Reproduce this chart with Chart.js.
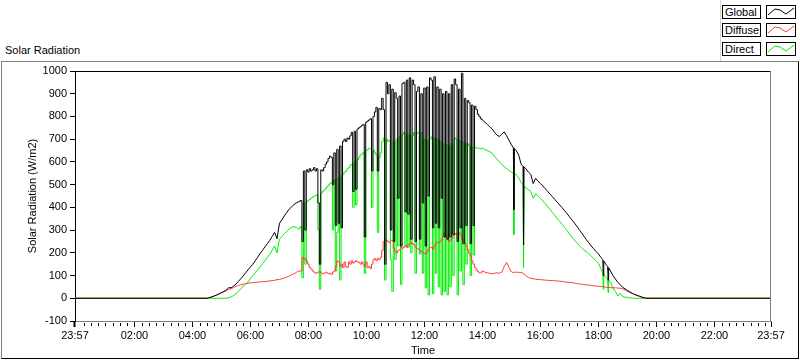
<!DOCTYPE html>
<html>
<head>
<meta charset="utf-8">
<script src="https://cdn.jsdelivr.net/npm/chart.js@4.4.0/dist/chart.umd.min.js"></script>
<style>
  html, body { margin: 0; padding: 0; background: #fff; }
  body { width: 800px; height: 361px; position: relative; overflow: hidden;
         font: 11px "Liberation Sans", Arial, sans-serif; color: #000; }
  #frame { position: absolute; left: 1px; top: 61px; width: 798px; height: 298px; box-sizing: border-box;
           border-left: 1px solid #808080; border-top: 1px solid #808080;
           border-right: 1px solid #000; border-bottom: 1px solid #000; }
  #caption { position: absolute; left: 5px; top: 44px; line-height: 13px; white-space: nowrap; }
  #legendPanel { position: absolute; left: 720px; top: 0; width: 80px; height: 61px;
                 border-left: 1px solid #d4d4d4; box-sizing: border-box; }
  .leg-name { position: absolute; left: 722px; width: 39px; height: 14px; box-sizing: border-box;
              border: 1px solid #000; padding-left: 2px; line-height: 12px; background: #fff; }
  .leg-line { position: absolute; left: 766px; width: 30px; height: 14px; box-sizing: border-box;
              border: 1px solid #000; background: #fff; }
  .leg-line svg { position: absolute; left: 0; top: 0; }
  canvas { position: absolute; left: 0; top: 0; }
</style>
</head>
<body>
<div id="frame"></div>
<div id="caption">Solar Radiation</div>
<div id="legendPanel"></div>
<div id="legend"></div>
<canvas id="chart" width="800" height="361"></canvas>
<script>
// time of day for each sample; the first 23:57 belongs to the previous day
const timeLabels = [
  '23:57',
  '04:30','04:35','04:40','04:45','04:50','04:55',
  '05:00','05:05','05:10','05:15','05:20','05:25','05:30','05:35','05:40','05:45','05:50','05:55',
  '06:00','06:05','06:10','06:15','06:20','06:25','06:30','06:35','06:40','06:45','06:50','06:55',
  '07:00','07:05','07:10','07:15','07:20','07:25','07:30','07:35','07:40',
  '07:45','07:48','07:51','07:54','07:57',
  '08:00','08:03','08:06','08:09','08:12','08:15','08:18','08:21','08:24','08:27','08:30','08:33','08:36','08:39','08:42','08:45','08:48','08:51','08:54','08:57',
  '09:00','09:03','09:06','09:09','09:12','09:15','09:18','09:21','09:24','09:27','09:30','09:33','09:36','09:39','09:42','09:45','09:48','09:51','09:54','09:57',
  '10:00','10:03','10:06','10:09','10:12','10:15','10:18','10:21','10:24','10:27','10:30','10:33','10:36','10:39','10:42','10:45','10:48','10:51','10:54','10:57',
  '11:00','11:03','11:06','11:09','11:12','11:15','11:18','11:21','11:24','11:27','11:30','11:33','11:36','11:39','11:42','11:45','11:48','11:51','11:54','11:57',
  '12:00','12:03','12:06','12:09','12:12','12:15','12:18','12:21','12:24','12:27','12:30','12:33','12:36','12:39','12:42','12:45','12:48','12:51','12:54','12:57',
  '13:00','13:03','13:06','13:09','13:12','13:15','13:18','13:21','13:24','13:27','13:30','13:33','13:36','13:39','13:42','13:45','13:48','13:51','13:54','13:57',
  '14:00','14:05','14:10','14:15','14:20','14:25','14:30','14:35','14:40','14:45','14:50','14:55',
  '15:00','15:04','15:05','15:06','15:10','15:15','15:20','15:24','15:25','15:26','15:30','15:35','15:40','15:45','15:50','15:55',
  '16:00','16:05','16:10','16:15','16:20','16:25','16:30','16:35','16:40','16:45','16:50','16:55',
  '17:00','17:05','17:10','17:15','17:20','17:25','17:30','17:35','17:40','17:45','17:50','17:55',
  '18:00','18:05','18:09','18:10','18:11','18:15','18:19','18:20','18:21','18:25','18:30','18:35','18:40','18:45','18:50','18:55',
  '19:00','19:05','19:10','19:15','19:20','19:25','19:30','19:35','19:40',
  '23:57'
];

const globalValues = [
  0,
  0, 3, 6, 10, 14, 19,
  25, 30, 36, 47, 46, 54, 62, 74, 86, 98, 112, 125,
  138, 150, 165, 181, 197, 211, 226, 240, 255, 272, 290, 262,
  330, 345, 362, 377, 392, 402, 412, 420, 425,
  430, 250, 560, 300, 565,
  555, 570, 560, 565, 575, 560, 570, 420, 150, 565, 560, 575, 590, 600, 615, 625, 620, 500, 640, 320,
  655, 330, 670, 310, 690, 700, 690, 705, 700, 715, 730, 470, 735, 480, 745, 750, 755, 760, 765, 270,
  775, 780, 785, 790, 560, 800, 820, 840, 560, 835, 830, 880, 830, 150, 950, 900, 940, 300, 920, 250,
  905, 880, 440, 890, 230, 945, 950, 380, 960, 370, 970, 260, 960, 940, 250, 910, 930, 260, 900, 420,
  925, 230, 930, 450, 970, 960, 310, 975, 330, 930, 310, 920, 440, 900, 270, 910, 260, 900, 270, 940,
  280, 965, 940, 250, 920, 310, 990, 240, 880, 320, 870, 860, 240, 850, 320, 845, 830, 810, 800, 790,
  785, 775, 765, 755, 745, 730, 718, 712, 722, 732, 715, 695,
  675, 662, 390, 658, 650, 630, 590, 580, 235, 578, 570, 555, 545, 505, 528, 515,
  505, 494, 482, 470, 458, 446, 434, 422, 410, 398, 385, 372,
  359, 345, 332, 318, 303, 288, 273, 258, 244, 230, 218, 206,
  195, 180, 170, 100, 165, 150, 140, 80, 135, 120, 100, 85, 70, 60, 48, 42,
  34, 28, 22, 17, 13, 9, 5, 2, 0,
  0
];

const diffuseValues = [
  0,
  0, 3, 6, 10, 15, 20,
  24, 29, 33, 40, 42, 47, 52, 56, 59, 62, 64, 66,
  68, 69, 70, 71, 72, 73, 74, 75, 76, 78, 79, 82,
  83, 86, 89, 93, 98, 103, 108, 114, 120,
  120, 180, 170, 175, 165,
  150, 135, 130, 120, 115, 110, 112, 115, 118, 112, 108, 110, 115, 112, 108, 110, 105, 115, 120, 140,
  165, 160, 140, 150, 135, 160, 140, 135, 160, 150, 165, 155, 160, 165, 160, 158, 150, 160, 150, 140,
  160, 135, 140, 130, 150, 170, 175, 165, 175, 170, 180, 210, 250, 255, 255, 250, 245, 255, 255, 220,
  205, 200, 210, 215, 225, 220, 225, 230, 224, 235, 240, 245, 240, 235, 225, 220, 215, 210, 205, 200,
  198, 195, 205, 215, 225, 224, 215, 230, 240, 245, 246, 250, 260, 270, 286, 275, 260, 250, 255, 265,
  275, 285, 280, 286, 290, 280, 260, 250, 242, 230, 215, 198, 185, 165, 150, 136, 125, 118, 112, 112,
  120, 115, 112, 110, 108, 110, 112, 110, 115, 140, 158, 135,
  116, 113, 112, 114, 115, 114, 114, 110, 108, 106, 100, 92, 88, 86, 84, 83,
  82, 81, 80, 79, 78, 78, 77, 76, 75, 74, 72, 71,
  70, 69, 67, 65, 63, 62, 60, 59, 58, 57, 55, 54,
  53, 52, 51, 50, 50, 49, 48, 48, 48, 47, 46, 46, 45, 44, 42, 36,
  30, 26, 21, 16, 12, 8, 5, 2, 0,
  0
];

const directValues = [
  0,
  0, 0, 0, 0, 0, 0,
  0, 0, 0, 2, 6, 12, 20, 30, 42, 52, 62, 72,
  88, 100, 112, 125, 138, 152, 165, 180, 194, 212, 230, 200,
  260, 272, 284, 295, 305, 312, 315, 312, 305,
  315, 90, 420, 150, 425,
  430, 435, 440, 445, 448, 452, 455, 300, 40, 462, 470, 476, 482, 490, 498, 505, 510, 300, 520, 120,
  290, 530, 80, 540, 545, 555, 560, 570, 575, 585, 590, 400, 600, 410, 610, 620, 630, 635, 640, 110,
  650, 655, 660, 660, 400, 650, 640, 630, 290, 620, 640, 690, 705, 80, 700, 690, 695, 170, 30, 690,
  170, 700, 230, 710, 60, 720, 730, 230, 720, 225, 720, 200, 715, 730, 110, 725, 730, 195, 730, 110,
  700, 45, 695, 15, 700, 710, 20, 705, 110, 700, 50, 690, 15, 680, 30, 675, 15, 670, 50, 680,
  100, 705, 700, 15, 695, 120, 690, 60, 685, 150, 680, 670, 100, 665, 190, 665, 660, 660, 660, 658,
  660, 655, 650, 645, 638, 625, 612, 600, 590, 578, 570, 562,
  555, 550, 280, 548, 545, 530, 510, 500, 135, 495, 485, 478, 470, 440, 460, 450,
  440, 428, 416, 403, 390, 377, 364, 350, 338, 326, 312, 298,
  284, 270, 257, 245, 233, 222, 212, 204, 196, 186, 175, 165,
  154, 130, 110, 40, 105, 95, 85, 25, 80, 70, 45, 30, 10, 22, 8, 5,
  3, 2, 1, 0, 0, 0, 0, 0, 0,
  0
];

const seriesNames = ['Global', 'Diffuse', 'Direct'];
const seriesColors = ['#000000', '#ff3c3c', '#00ee00'];
const majorTickLabels = ['23:57', '02:00', '04:00', '06:00', '08:00', '10:00', '12:00',
                         '14:00', '16:00', '18:00', '20:00', '22:00', '23:57'];
const yTitle = 'Solar Radiation (W/m2)';
const xTitle = 'Time';

const FONT = { family: '"Liberation Sans", Arial, sans-serif', size: 11 };
const X_MIN = -0.05, X_MAX = 23.95;

function toHours(s, i) {
  const [h, m] = s.split(':').map(Number);
  const v = h + m / 60;
  return i === 0 ? v - 24 : v;
}

const xs = timeLabels.map(toHours);
const majorTicks = majorTickLabels.map(toHours);
const minorTicks = [];
for (let m = 15; m < 24 * 60; m += 15) {
  if (m % 120 !== 0) minorTicks.push(m / 60);
}

// the cloudy part of the day is drawn as vertical steps, the rest as plain lines
const denseFrom = timeLabels.indexOf('07:40');
const denseTo = timeLabels.indexOf('14:00');

function smoothPart(values) {
  return values.map((v, i) => ({ x: xs[i], y: (i > denseFrom && i < denseTo) ? null : v }));
}
function densePart(values) {
  return values.slice(denseFrom, denseTo + 1).map((v, k) => ({ x: xs[denseFrom + k], y: v }));
}

// legend boxes (HTML)
const legend = document.getElementById('legend');
const legendTops = [5, 23, 42];
seriesNames.forEach((name, i) => {
  const lab = document.createElement('div');
  lab.className = 'leg-name';
  lab.style.top = legendTops[i] + 'px';
  lab.textContent = name;
  legend.appendChild(lab);
  const sw = document.createElement('div');
  sw.className = 'leg-line';
  sw.style.top = legendTops[i] + 'px';
  sw.innerHTML = '<svg width="28" height="12"><polyline points="1,9 8,3 13,4 19,8 27,2" fill="none" stroke="' +
    seriesColors[i] + '" stroke-width="1"/></svg>';
  legend.appendChild(sw);
});

const plotFrame = {
  id: 'plotFrame',
  afterDraw(chart) {
    const { ctx, chartArea: a } = chart;
    const x = chart.scales.x;
    ctx.save();
    ctx.lineWidth = 1;
    ctx.strokeStyle = '#000';
    ctx.beginPath();
    ctx.moveTo(a.left, a.top + 0.5);
    ctx.lineTo(a.right, a.top + 0.5);
    ctx.stroke();
    ctx.strokeStyle = '#808080';
    ctx.beginPath();
    ctx.moveTo(a.right - 0.5, a.top);
    ctx.lineTo(a.right - 0.5, a.bottom);
    ctx.stroke();
    // minor ticks on the time axis
    ctx.strokeStyle = '#000';
    ctx.beginPath();
    minorTicks.forEach(h => {
      const px = Math.round(x.getPixelForValue(h)) + 0.5;
      ctx.moveTo(px, a.bottom + 2);
      ctx.lineTo(px, a.bottom + 5);
    });
    ctx.stroke();
    ctx.restore();
  }
};

const allValues = [globalValues, diffuseValues, directValues];
const drawOrder = [1, 2, 3]; // Global on top, Direct underneath
const datasets = [];
seriesNames.forEach((name, i) => {
  const common = {
    label: name,
    borderColor: seriesColors[i],
    borderWidth: 1,
    pointRadius: 0,
    fill: false,
    spanGaps: false,
    order: drawOrder[i]
  };
  datasets.push(Object.assign({}, common, { data: smoothPart(allValues[i]), tension: 0 }));
  datasets.push(Object.assign({}, common, { data: densePart(allValues[i]), stepped: 'middle' }));
});

new Chart(document.getElementById('chart'), {
  type: 'line',
  plugins: [plotFrame],
  data: { datasets },
  options: {
    responsive: false,
    animation: false,
    parsing: false,
    layout: { padding: { left: 0, top: 71, right: 29, bottom: 0 } },
    plugins: { legend: { display: false }, tooltip: { enabled: false } },
    scales: {
      x: {
        type: 'linear',
        min: X_MIN,
        max: X_MAX,
        afterBuildTicks: s => { s.ticks = majorTicks.map(v => ({ value: v })); },
        afterFit: s => { s.height = 40; },
        ticks: {
          autoSkip: false,
          maxRotation: 0,
          padding: 2,
          color: '#000',
          font: FONT,
          callback: (v, i) => majorTickLabels[i]
        },
        grid: {
          drawOnChartArea: false,
          drawTicks: true,
          tickLength: 6,
          tickColor: '#000',
          tickWidth: c => (c.index === 0 ? 2 : 1)
        },
        border: { display: true, color: '#808080', width: 1 },
        title: { display: true, text: xTitle, color: '#000', font: FONT, padding: { top: 0, bottom: 3 } }
      },
      y: {
        min: -100,
        max: 1000,
        afterFit: s => { s.width = 75; },
        ticks: { stepSize: 100, padding: 3, color: '#000', font: FONT, callback: v => String(v) },
        grid: { drawOnChartArea: false, drawTicks: true, tickLength: 5, tickColor: '#000' },
        border: { display: true, color: '#000', width: 1 },
        title: { display: true, text: yTitle, color: '#000', font: FONT, padding: { top: 26, bottom: 0 } }
      }
    }
  }
});
</script>
</body>
</html>
